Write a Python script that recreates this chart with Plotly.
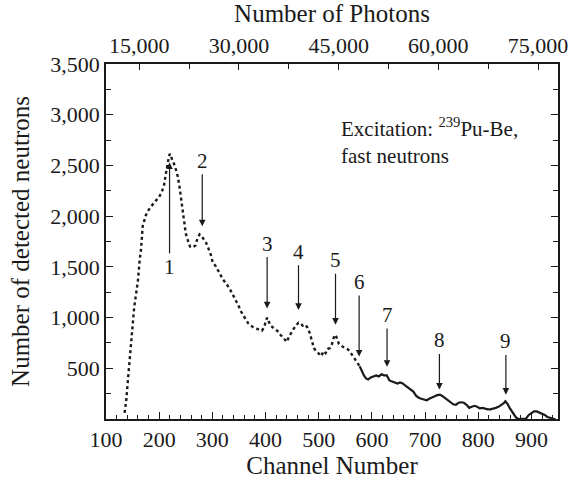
import plotly.graph_objects as go

# ---- data ----
channels = [135, 138, 141, 144, 147, 150, 153, 157, 160, 163, 166, 169, 172, 175, 180, 185, 190, 195, 200,
            205, 209, 212, 215, 218, 220, 223, 226, 229, 232, 235, 238, 241, 244, 247, 250, 254, 258, 263,
            268, 272, 276, 280, 284, 288, 292, 297, 301, 306, 310, 314, 318, 323, 328, 333, 338, 343, 348,
            354, 358, 363, 368, 373, 378, 383, 388, 393, 397, 400, 403, 406, 410, 416, 422, 428, 434, 440,
            444, 449, 453, 457, 462, 466, 470, 475, 479, 483, 487, 491, 495, 500, 505, 509, 513, 517, 521,
            525, 528, 531, 534, 538, 542, 546, 550, 554, 558, 562, 566, 570, 573, 577, 581, 585, 589, 593,
            598, 603, 608, 613, 618, 623, 628, 633, 638, 643, 648, 653, 658, 663, 668, 673, 678, 683, 688,
            693, 698, 703, 708, 713, 718, 723, 728, 733, 738, 743, 748, 753, 758, 763, 768, 773, 778, 783,
            788, 793, 798, 803, 808, 813, 818, 823, 828, 833, 838, 843, 848, 851, 855, 859, 863, 867, 871,
            875, 880, 885, 890, 895, 900, 905, 910, 915, 920, 925, 930, 935, 940, 945]
counts = [60, 180, 370, 550, 700, 920, 1100, 1250, 1360, 1550, 1680, 1900, 1960, 2010, 2060, 2100, 2130, 2160, 2190,
          2240, 2300, 2400, 2500, 2580, 2615, 2580, 2540, 2500, 2450, 2390, 2300, 2170, 2050, 1920, 1830, 1760, 1700, 1690,
          1710, 1780, 1820, 1800, 1770, 1740, 1690, 1620, 1540, 1510, 1470, 1440, 1390, 1360, 1320, 1280, 1230, 1190, 1130,
          1060, 1030, 980, 940, 920, 900, 890, 880, 870, 900, 960, 1000, 960, 920, 890, 870, 830, 800, 760,
          810, 860, 890, 920, 950, 940, 920, 930, 900, 850, 780, 700, 670, 640, 620, 670, 650, 690, 700,
          740, 800, 830, 800, 740, 720, 710, 700, 690, 670, 640, 610, 570, 550, 520, 470, 430, 400, 390,
          410, 420, 430, 420, 440, 430, 430, 380, 370, 360, 350, 360, 350, 330, 310, 290, 270, 230, 210,
          200, 190, 185, 200, 215, 225, 235, 240, 225, 205, 190, 170, 145, 140, 160, 165, 160, 140, 110,
          120, 130, 120, 105, 110, 100, 95, 95, 100, 110, 120, 135, 155, 175, 150, 110, 80, 50, 15,
          0, 0, 0, 5, 40, 60, 75, 75, 65, 50, 40, 20, 10, 5, 0]

# peak markers: label, channel of arrow, tip count, label count
peak_labels = ["1", "2", "3", "4", "5", "6", "7", "8", "9"]
peak_channels = [219.5, 281, 403, 462, 531.6, 576, 628.5, 727, 852]
peak_tip_counts = [2530, 1900, 1090, 1075, 930, 615, 515, 290, 240]
peak_label_counts = [1500, 2545, 1730, 1650, 1565, 1350, 1025, 775, 765]

channel_range = [100, 950]
count_range = [0, 3500]
photons_per_channel = 80
photon_offset = 2000
photon_ticks = [15000, 30000, 45000, 60000, 75000]
channel_ticks = [100, 200, 300, 400, 500, 600, 700, 800, 900]
count_ticks = [500, 1000, 1500, 2000, 2500, 3000, 3500]

FONT = "'Liberation Serif', 'Times New Roman', 'DejaVu Serif', serif"
INK = "#1a1a1a"

split_channel = 577
i_split = channels.index(split_channel)

fig = go.Figure()
fig.add_trace(go.Scatter(x=channels[:i_split + 1], y=counts[:i_split + 1], mode="lines",
                         line=dict(color=INK, width=2.4, dash="dot"), hoverinfo="skip", showlegend=False))
fig.add_trace(go.Scatter(x=channels[i_split:], y=counts[i_split:], mode="lines",
                         line=dict(color=INK, width=2.2), hoverinfo="skip", showlegend=False))
# invisible trace to carry the photon axis
photon_range = [photons_per_channel * c + photon_offset for c in channel_range]
fig.add_trace(go.Scatter(x=photon_range, y=[None, None], xaxis="x2", mode="markers",
                         marker=dict(opacity=0), hoverinfo="skip", showlegend=False))

for lab, c, tip, lv in zip(peak_labels, peak_channels, peak_tip_counts, peak_label_counts):
    fig.add_annotation(x=c, y=tip, ax=c, ay=lv, xref="x", yref="y", axref="x", ayref="y",
                       text=lab, showarrow=True, arrowhead=2, arrowsize=1.1, arrowwidth=1.2,
                       arrowcolor=INK, standoff=0, startstandoff=0,
                       font=dict(family=FONT, size=21, color=INK))

fig.add_annotation(xref="paper", yref="paper", x=0.515, y=0.865, xanchor="left", yanchor="top",
                   text="Excitation: <sup>239</sup>Pu-Be,<br>fast neutrons", align="left",
                   showarrow=False, font=dict(family=FONT, size=21, color=INK))

axis_common = dict(showline=True, linecolor=INK, linewidth=1.5, showgrid=False, zeroline=False,
                   ticks="inside", tickcolor=INK, tickwidth=1.2,
                   tickfont=dict(family=FONT, size=22, color=INK))

fig.update_layout(
    width=580, height=484,
    margin=dict(l=106, r=13, t=64, b=63),
    paper_bgcolor="white", plot_bgcolor="white",
    font=dict(family=FONT, color=INK),
    xaxis=dict(range=channel_range, tickvals=channel_ticks, ticklen=7,
               minor=dict(ticks="inside", dtick=20, tick0=100, ticklen=4, tickcolor=INK, showgrid=False),
               title=dict(text="Channel Number", font=dict(family=FONT, size=25, color=INK), standoff=2),
               **axis_common),
    xaxis2=dict(overlaying="x", side="top", anchor="y", range=photon_range,
                tickvals=photon_ticks, tickformat=",", ticklen=6,
                minor=dict(ticks="inside", dtick=7500, tick0=0, ticklen=5, tickcolor=INK, showgrid=False),
                title=dict(text="Number of Photons", font=dict(family=FONT, size=25, color=INK), standoff=4),
                **axis_common),
    yaxis=dict(range=count_range, tickvals=count_ticks, tickformat=",", ticklen=7, mirror="ticks",
               minor=dict(ticks="inside", dtick=250, tick0=0, ticklen=5, tickcolor=INK, showgrid=False),
               title=dict(text="Number of detected neutrons", font=dict(family=FONT, size=25, color=INK),
                          standoff=14),
               **axis_common),
)

fig.write_html("out.html")
